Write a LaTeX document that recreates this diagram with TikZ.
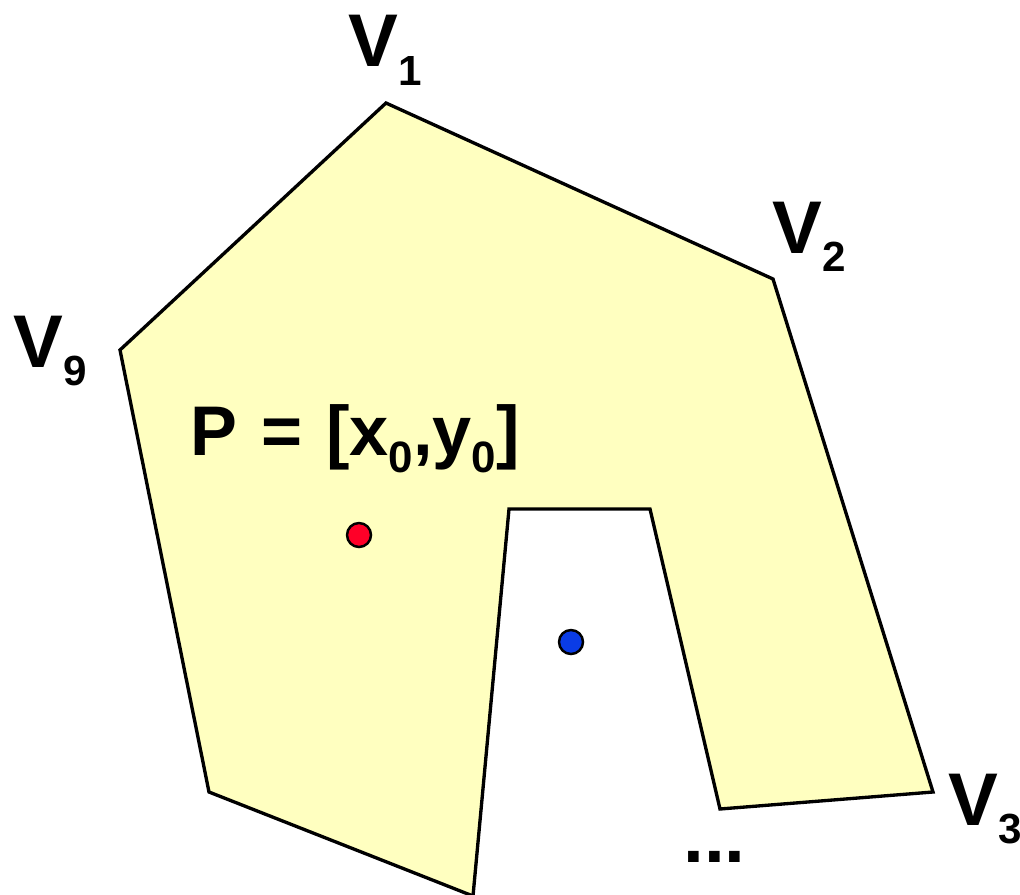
\documentclass[tikz,border=0pt]{standalone}
\usepackage{fontspec}
\setmainfont{Liberation Sans}
\usepackage{tikz}
\usetikzlibrary{positioning}
\definecolor{polyfill}{RGB}{255,255,192}
\definecolor{ptred}{RGB}{255,0,40}
\definecolor{ptblue}{RGB}{10,60,230}
\newcommand{\vsub}[1]{\lower10.8pt\hbox{\fontsize{24}{24}\selectfont #1}}
\newcommand{\psub}[1]{\lower10.2pt\hbox{\fontsize{25}{25}\selectfont #1}}
\begin{document}
\begin{tikzpicture}[x=0.02cm,y=-0.02cm,
 poly/.style={draw=black,fill=polyfill,line width=1.9pt,line join=miter},
 vlab/.style={font=\fontsize{42.5}{42.5}\selectfont\bfseries,inner sep=0pt,anchor=base west},
 plab/.style={font=\fontsize{40}{40}\selectfont\bfseries,inner sep=0pt,anchor=base west},
 pt/.style={draw=black,line width=1.4pt}]
\useasboundingbox (0,0) rectangle (1020,895);
% polygon vertices
\coordinate (v1) at (386,103);
\coordinate (v2) at (773,279);
\coordinate (v3) at (933,792);
\coordinate (v4) at (720,809);
\coordinate (v5) at (650,509);
\coordinate (v6) at (509,509);
\coordinate (v7) at (473,896);
\coordinate (v8) at (209,792);
\coordinate (v9) at (120,350);
\draw[poly] (v1) -- (v2) -- (v3) -- (v4) -- (v5) -- (v6) -- (v7) -- (v8) -- (v9) -- cycle;
% vertex labels
\node[vlab] (l1) at (348,67) {V\vsub{1}};
\node[vlab] (l2) at (772,253) {V\vsub{2}};
\node[vlab] (l3) at (948,825) {V\vsub{3}};
\node[vlab] (l9) at (13,367) {V\vsub{9}};
\node[vlab] (dots) at (683,862) {...};
% test point
\node[plab] (plbl) at (190,455) {P\hspace{2.5pt} =\hspace{2.5pt} [x\psub{0},y\psub{0}]};
\filldraw[pt,fill=ptred] (359,535) circle[radius=12];
\filldraw[pt,fill=ptblue] (571,642) circle[radius=12];
\end{tikzpicture}
\end{document}
